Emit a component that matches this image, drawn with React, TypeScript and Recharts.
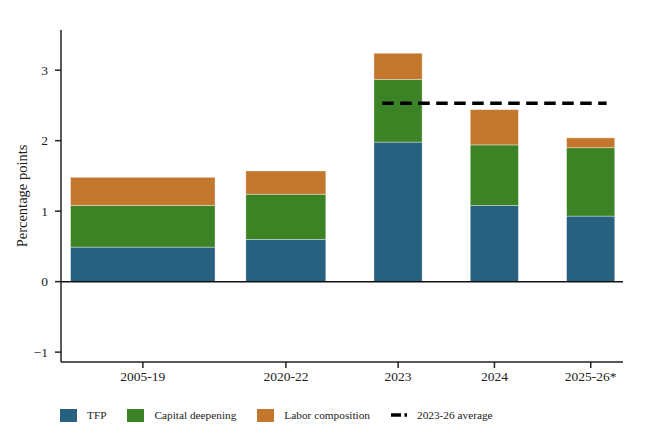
import { BarChart, Bar, XAxis, YAxis, ReferenceLine, Legend } from 'recharts';

const periods = ['2005-19', '2020-22', '2023', '2024', '2025-26*'];
const tfp = [0.49, 0.6, 1.98, 1.08, 0.93];
const capitalDeepening = [0.59, 0.64, 0.89, 0.86, 0.97];
const laborComposition = [0.4, 0.33, 0.37, 0.5, 0.14];
const average2023to26 = 2.53;
const yTicks = [-1, 0, 1, 2, 3];

// layout: where each period sits on the x axis and how many bar-widths it spans
const periodCenter = [1.7, 4.67, 7, 9, 11];
const periodSpan = [3, 1.66, 1, 1, 1];
const X_DOMAIN: [number, number] = [0, 11.67];
const AVG_FROM = 6.67;
const AVG_TO = 11.33;

const W = 650;
const H = 440;
const MARGIN = { top: 30, right: 27, left: 0, bottom: 0 };
const Y_AXIS_W = 61;
const UNIT_PX = (W - MARGIN.left - MARGIN.right - Y_AXIS_W) / (X_DOMAIN[1] - X_DOMAIN[0]);

const FONT = '"Liberation Serif", "Times New Roman", serif';
const COLORS = { tfp: '#28607f', cap: '#3b8324', labor: '#c2772c' };

const rows = periods.map((period, i) => ({
  period,
  pos: periodCenter[i],
  span: periodSpan[i],
  tfp: tfp[i],
  cap: capitalDeepening[i],
  labor: laborComposition[i],
}));

const legendItems = [
  { name: 'TFP', color: COLORS.tfp },
  { name: 'Capital deepening', color: COLORS.cap },
  { name: 'Labor composition', color: COLORS.labor },
];

// bar width scaled by the period's span, kept centred on its x position
function SpanBar(props: any) {
  const { x, y, width, height, fill, payload } = props;
  const w = width * payload.span;
  const cx = x + width / 2;
  return (
    <rect
      x={cx - w / 2}
      y={y}
      width={w}
      height={height}
      fill={fill}
      stroke='#ffffff'
      strokeOpacity={0.45}
      strokeWidth={0.8}
    />
  );
}

const itemStyle = { display: 'flex', alignItems: 'center', height: 16, marginRight: 21 };

function ChartLegend() {
  return (
    <div
      style={{
        height: 38,
        boxSizing: 'border-box',
        display: 'flex',
        alignItems: 'flex-start',
        paddingTop: 5,
        paddingLeft: 60,
        fontFamily: FONT,
        fontSize: 11.3,
        color: '#222',
      }}
    >
      {legendItems.map((item) => (
        <div key={item.name} style={itemStyle}>
          <span
            style={{
              width: 17,
              height: 13,
              background: item.color,
              marginRight: 10,
              display: 'inline-block',
            }}
          />
          <span>{item.name}</span>
        </div>
      ))}
      <div style={{ ...itemStyle, marginRight: 0 }}>
        <svg width={16} height={6} style={{ marginRight: 10 }}>
          <line x1={0} y1={3} x2={16} y2={3} stroke='#000' strokeWidth={3.5} strokeDasharray='10 3.5' />
        </svg>
        <span>2023-26 average</span>
      </div>
    </div>
  );
}

function YLabel(props: any) {
  const { viewBox } = props;
  const cy = viewBox.y + viewBox.height / 2;
  return (
    <text
      x={22}
      y={cy}
      transform={`rotate(-90, 22, ${cy})`}
      textAnchor='middle'
      dominantBaseline='central'
      fontFamily={FONT}
      fontSize={14.5}
      fill='#222'
    >
      Percentage points
    </text>
  );
}

export default function App() {
  const tick = { fill: '#222', fontSize: 13.5, fontFamily: FONT };
  return (
    <div style={{ position: 'absolute', left: 0, top: 0, width: W, height: H, background: '#fff' }}>
      <BarChart width={W} height={H} data={rows} margin={MARGIN}>
        <XAxis
          dataKey='pos'
          type='number'
          domain={X_DOMAIN}
          ticks={periodCenter}
          tickFormatter={(v: number) => periods[periodCenter.indexOf(v)] ?? ''}
          interval={0}
          tick={tick}
          tickSize={6}
          tickMargin={3}
          height={40}
          stroke='#222'
          strokeWidth={1.5}
          allowDataOverflow
        />
        <YAxis
          type='number'
          domain={[-1.14, 3.57]}
          ticks={yTicks}
          tickFormatter={(v: number) => (v < 0 ? `\u2212${Math.abs(v)}` : `${v}`)}
          tick={tick}
          tickSize={6}
          tickMargin={7}
          width={Y_AXIS_W}
          stroke='#222'
          strokeWidth={1.5}
          allowDataOverflow
          label={<YLabel />}
        />
        <Legend verticalAlign='bottom' wrapperStyle={{ left: 0, width: W, height: 38 }} content={() => <ChartLegend />} />
        <Bar dataKey='tfp' stackId='a' fill={COLORS.tfp} barSize={UNIT_PX} shape={<SpanBar />} isAnimationActive={false} />
        <Bar dataKey='cap' stackId='a' fill={COLORS.cap} barSize={UNIT_PX} shape={<SpanBar />} isAnimationActive={false} />
        <Bar dataKey='labor' stackId='a' fill={COLORS.labor} barSize={UNIT_PX} shape={<SpanBar />} isAnimationActive={false} />
        <ReferenceLine y={0} stroke='#111' strokeWidth={1.5} />
        <ReferenceLine
          segment={[
            { x: AVG_FROM, y: average2023to26 },
            { x: AVG_TO, y: average2023to26 },
          ]}
          stroke='#000'
          strokeWidth={3.5}
          strokeDasharray='11.5 6.5'
        />
      </BarChart>
    </div>
  );
}
